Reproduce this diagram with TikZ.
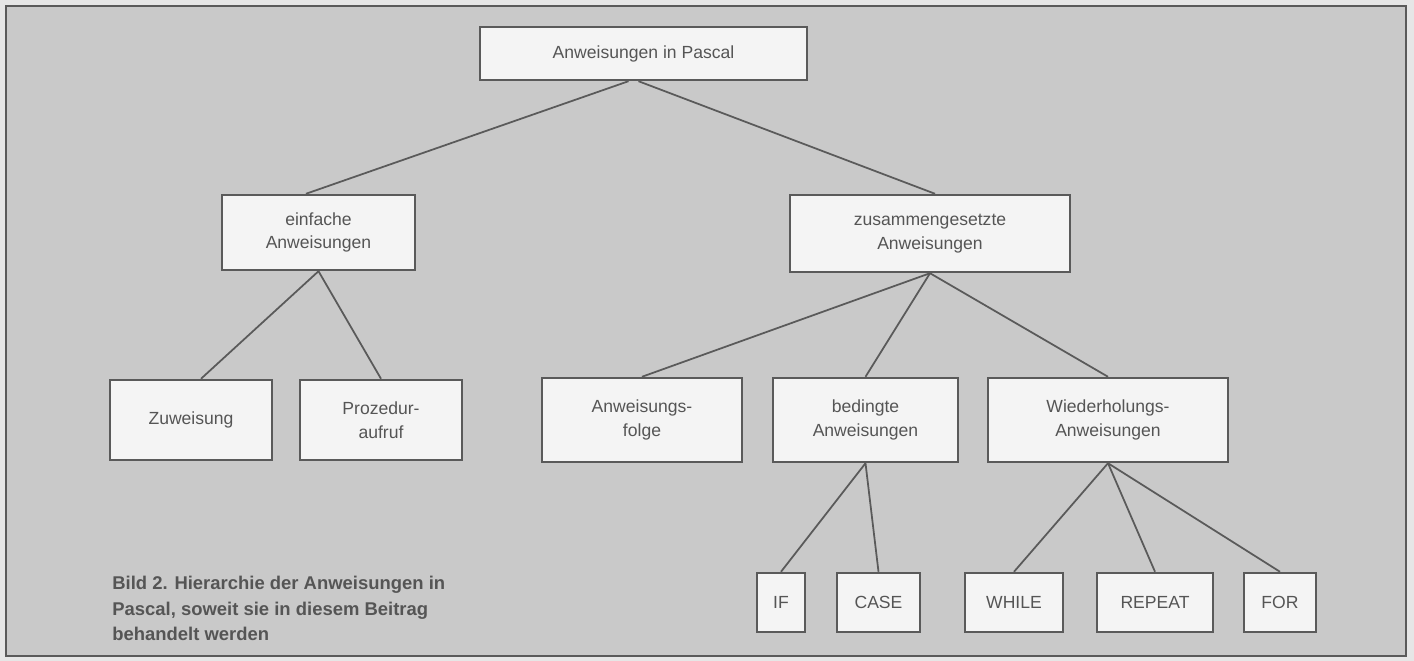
\documentclass[tikz,border=0pt]{standalone}
\usepackage{fontspec}
\setmainfont{Liberation Sans}
\definecolor{grund}{HTML}{C9C9C9}
\definecolor{rand}{HTML}{E6E6E6}
\definecolor{strich}{HTML}{5A5A5A}
\definecolor{schrift}{HTML}{555555}
\definecolor{papier}{HTML}{F4F4F4}
\begin{document}
\begin{tikzpicture}[x=0.02cm,y=-0.02cm,
    kasten/.style={draw=strich,fill=papier,line width=1.4pt,align=center,
      text=schrift,font=\fontsize{10}{13.5}\selectfont,inner sep=0pt},
    ast/.style={draw=strich,line width=1pt}]
      \fill[rand] (0,0) rectangle (1414,661);
      \filldraw[fill=grund,draw=strich,line width=1pt] (6,6) rectangle (1406,656);
      \node[kasten,minimum width=6.54cm,minimum height=1.06cm] (pascal) at (643.5,53.5) {Anweisungen in Pascal};
      \node[kasten,minimum width=3.86cm,minimum height=1.5cm] (einfach) at (318.5,232.5) {einfache\\Anweisungen};
      \node[kasten,minimum width=5.6cm,minimum height=1.54cm] (zusammen) at (930,233.5) {zusammengesetzte\\Anweisungen};
      \node[kasten,minimum width=3.24cm,minimum height=1.6cm] (zuweisung) at (191,420) {Zuweisung};
      \node[kasten,minimum width=3.24cm,minimum height=1.6cm] (prozedur) at (381,420) {Prozedur-\\aufruf};
      \node[kasten,minimum width=4cm,minimum height=1.68cm] (folge) at (642,420) {Anweisungs-\\folge};
      \node[kasten,minimum width=3.7cm,minimum height=1.68cm] (bedingt) at (865.5,420) {bedingte\\Anweisungen};
      \node[kasten,minimum width=4.8cm,minimum height=1.68cm] (wiederh) at (1108,420) {Wiederholungs-\\Anweisungen};
      \node[kasten,minimum width=0.96cm,minimum height=1.18cm] (if) at (781,602.5) {IF};
      \node[kasten,minimum width=1.66cm,minimum height=1.18cm] (case) at (878.5,602.5) {CASE};
      \node[kasten,minimum width=1.96cm,minimum height=1.18cm] (while) at (1014,602.5) {WHILE};
      \node[kasten,minimum width=2.32cm,minimum height=1.18cm] (repeat) at (1155,602.5) {REPEAT};
      \node[kasten,minimum width=1.44cm,minimum height=1.18cm] (for) at (1280,602.5) {FOR};
      \draw[ast] ([xshift=-0.3cm]pascal.south) -- ([xshift=-0.25cm]einfach.north);
      \draw[ast] ([xshift=-0.1cm]pascal.south) -- ([xshift=0.1cm]zusammen.north);
      \draw[ast] (einfach.south) -- ([xshift=0.2cm]zuweisung.north);
      \draw[ast] (einfach.south) -- (prozedur.north);
      \draw[ast] (zusammen.south) -- (folge.north);
      \draw[ast] (zusammen.south) -- (bedingt.north);
      \draw[ast] (zusammen.south) -- (wiederh.north);
      \draw[ast] (bedingt.south) -- (if.north);
      \draw[ast] (bedingt.south) -- (case.north);
      \draw[ast] (wiederh.south) -- (while.north);
      \draw[ast] (wiederh.south) -- (repeat.north);
      \draw[ast] (wiederh.south) -- (for.north);
      \node[anchor=north west,align=left,text=schrift,inner sep=0pt,
        font=\fontsize{10.5}{14.5}\selectfont\bfseries] (bild) at (112,576)
        {Bild 2. Hierarchie der Anweisungen in\\Pascal, soweit sie in diesem Beitrag\\behandelt werden};
    \end{tikzpicture}
\end{document}
